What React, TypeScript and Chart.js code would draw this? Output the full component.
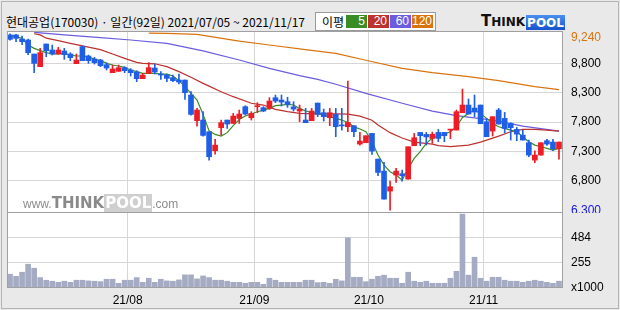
import React, { useEffect, useRef } from "react";
import { Chart, registerables } from "chart.js";

Chart.register(...registerables);

// ---- data ----
const titleText = "현대공업(170030) · 일간(92일) 2021/07/05 ~ 2021/11/17";
const monthTickIdx = [20, 41, 60, 79];
const monthLabels = ["21/08", "21/09", "21/10", "21/11"];

const openP = [
  9280, 9280, 9211, 9194, 8956, 8741, 9126, 9024, 8956, 9007,
  8956, 8792, 9081, 8922, 8871, 8854, 8775, 8639, 8662, 8724,
  8684, 8650, 8537, 8627, 8718, 8605, 8599, 8554, 8514, 8514,
  8259, 7823, 7834, 7636, 7313, 7704, 7834, 7777, 7862, 8061,
  7873, 8061, 8044, 8032, 8214, 8174, 8146, 8058, 7987, 7834,
  7823, 8123, 7959, 7874, 7930, 7740, 7721, 7738, 7426, 7449,
  7607, 7171, 6967, 6627, 6899, 6922, 6831, 7398, 7624, 7590,
  7522, 7624, 7624, 7664, 7664, 7959, 8089, 8038, 8089, 7806,
  7647, 8004, 7862, 7777, 7675, 7579, 7449, 7154, 7239, 7483,
  7460, 7347,
];
const highP = [
  9300, 9290, 9262, 9211, 8956, 9052, 9126, 9109, 9069, 9052,
  8979, 8956, 9092, 8939, 8899, 8865, 8809, 8769, 8769, 8741,
  8707, 8673, 8627, 8810, 8786, 8656, 8616, 8599, 8616, 8514,
  8316, 8032, 7976, 7636, 7505, 7834, 7834, 7947, 8004, 8078,
  7976, 8129, 8061, 8214, 8259, 8259, 8222, 8146, 8089, 8032,
  8032, 8123, 8021, 8032, 8032, 8032, 8497, 7738, 7624, 7568,
  7607, 7171, 7114, 6797, 7012, 6984, 7381, 7607, 7624, 7624,
  7630, 7675, 7624, 7675, 8004, 8361, 8191, 8259, 8089, 7862,
  7891, 8032, 7964, 7789, 7709, 7664, 7494, 7313, 7449, 7505,
  7505, 7460,
];
const lowP = [
  9190, 9165, 9115, 8945, 8639, 8741, 8911, 8939, 8956, 8865,
  8843, 8792, 8843, 8797, 8786, 8741, 8684, 8639, 8662, 8639,
  8582, 8486, 8537, 8627, 8616, 8525, 8486, 8486, 8446, 8185,
  7919, 7732, 7562, 7154, 7256, 7579, 7692, 7777, 7777, 7919,
  7834, 7959, 7976, 8015, 8129, 8072, 8050, 7987, 7806, 7789,
  7823, 7891, 7817, 7738, 7551, 7664, 7636, 7551, 7409, 7449,
  7250, 6888, 6491, 6304, 6774, 6797, 6831, 7398, 7398, 7409,
  7440, 7466, 7466, 7517, 7664, 7959, 7936, 7891, 7772, 7551,
  7562, 7766, 7619, 7494, 7483, 7494, 7211, 7109, 7239, 7403,
  7313, 7171,
];
const closeP = [
  9205, 9222, 9166, 8979, 8797, 8979, 9013, 8956, 9024, 8945,
  8894, 8854, 8843, 8843, 8809, 8758, 8718, 8701, 8724, 8673,
  8639, 8537, 8599, 8724, 8650, 8599, 8542, 8503, 8480, 8299,
  7930, 8004, 7573, 7211, 7409, 7789, 7766, 7902, 7936, 7936,
  7947, 8072, 7987, 8157, 8157, 8140, 8100, 8021, 8021, 7789,
  7987, 7930, 7891, 7959, 7721, 7735, 7794, 7636, 7477, 7568,
  7307, 6944, 6491, 6701, 6967, 6888, 7381, 7534, 7568, 7548,
  7593, 7522, 7568, 7675, 7976, 8089, 7936, 7970, 7772, 7551,
  7891, 7766, 7692, 7704, 7596, 7494, 7239, 7239, 7449, 7426,
  7347, 7460,
];

const ma5 = [
  9279, 9250, 9222, 9109, 9052, 9013, 8979, 8956, 8956, 8967,
  8939, 8922, 8922, 8911, 8865, 8843, 8797, 8769, 8752, 8729,
  8684, 8656, 8627, 8627, 8627, 8616, 8616, 8582, 8503, 8401,
  8287, 8174, 7930, 7650, 7590, 7562, 7620, 7740, 7845, 7902,
  7936, 7976, 8004, 8032, 8078, 8089, 8100, 8090, 8032, 7987,
  7964, 7947, 7919, 7891, 7862, 7834, 7794, 7721, 7681, 7636,
  7466, 7239, 7069, 6956, 6899, 6814, 7012, 7182, 7296, 7437,
  7530, 7562, 7596, 7636, 7721, 7879, 7947, 8004, 7947, 7862,
  7777, 7721, 7692, 7664, 7636, 7551, 7466, 7409, 7381, 7352,
  7324, 7352,
];
const ma20Idx = [4, 5, 6, 8, 10, 12, 15, 17, 19, 21, 22, 24, 26, 28, 30, 32, 33, 35, 37, 40, 42, 44, 46, 48, 51, 54, 56, 58, 60, 61, 63, 65, 67, 70, 71, 73, 76, 78, 81, 83, 85, 87, 89, 91];
const ma20Val = [9300, 9280, 9225, 9183, 9137, 9095, 9030, 8956, 8882, 8814, 8797, 8790, 8741, 8656, 8560, 8457, 8410, 8316, 8231, 8120, 8089, 8015, 7976, 7947, 7940, 7940, 7935, 7900, 7830, 7749, 7620, 7530, 7460, 7426, 7400, 7381, 7409, 7460, 7560, 7636, 7675, 7675, 7664, 7647];
const ma60Idx = [4, 9, 15, 20, 26, 32, 38, 43, 48, 51, 54, 59, 65, 70, 74, 80, 85, 91];
const ma60Val = [9325, 9280, 9234, 9194, 9137, 9010, 8854, 8712, 8590, 8525, 8443, 8287, 8120, 7985, 7908, 7834, 7732, 7645];
const ma120Idx = [23, 26, 31, 38, 43, 49, 54, 59, 65, 70, 76, 81, 87, 91];
const ma120Val = [9310, 9305, 9290, 9175, 9109, 9030, 8967, 8850, 8712, 8639, 8571, 8503, 8401, 8350];

const volume = [
  148, 129, 166, 239, 203, 117, 93, 84, 74, 84,
  74, 93, 93, 87, 84, 80, 102, 102, 65, 93,
  93, 117, 74, 111, 74, 102, 87, 84, 96, 142,
  142, 105, 132, 117, 93, 93, 84, 74, 74, 65,
  74, 74, 56, 111, 93, 74, 74, 74, 74, 93,
  93, 71, 74, 65, 102, 87, 480, 120, 120, 80,
  102, 129, 139, 111, 111, 65, 166, 84, 74, 84,
  65, 65, 65, 111, 175, 697, 139, 303, 111, 84,
  120, 120, 93, 84, 84, 74, 84, 93, 84, 74,
  65, 84,
];

const priceTicks = [6300, 6800, 7300, 7800, 8300, 8800, 9240];
const priceMin = 6255;
const priceMax = 9330;
const volTicks = [22, 255, 484];
const volMin = 22;
const volMax = 707;

const maLabels = ["5", "20", "60", "120"];
const maColors = ["#3a8c24", "#bd312f", "#6b5ce0", "#d9730f"];

// ---- styles ----
const UP = "#ee1c24";
const DOWN = "#1f5fe6";
const GRID = "#d6d6d6";
const FRAME = "#a0a0a0";
const AXIS_FONT = { family: "'Liberation Sans', Arial, sans-serif", size: 12 };

const panelFrame = {
  id: "panelFrame",
  beforeDraw(chart: any) {
    const { ctx, chartArea: a } = chart;
    ctx.save();
    ctx.fillStyle = "#ffffff";
    ctx.fillRect(a.left, a.top, a.right - a.left, a.bottom - a.top);
    ctx.restore();
  },
  afterDraw(chart: any) {
    const { ctx, chartArea: a } = chart;
    ctx.save();
    ctx.strokeStyle = FRAME;
    ctx.lineWidth = 1;
    const l = Math.round(a.left) + 0.5;
    const t = Math.round(a.top) - 0.5;
    const r = Math.round(a.right) + 0.5;
    const b = Math.round(a.bottom) - 0.5;
    ctx.strokeRect(l, t, r - l, b - t);
    ctx.restore();
  },
};

const zeroPad = (s: any) => {
  s.paddingTop = 0;
  s.paddingBottom = 0;
  s.paddingLeft = 0;
  s.paddingRight = 0;
};

const monthXAxis = (showLabels: boolean, height: number) => ({
  type: "linear" as const,
  min: -0.5,
  max: 91.5,
  offset: false,
  grid: { offset: false, color: GRID, drawTicks: false },
  border: { display: false },
  ticks: {
    display: showLabels,
    autoSkip: false,
    maxRotation: 0,
    padding: 5,
    font: AXIS_FONT,
    color: "#000",
    callback: (v: any) => {
      const k = monthTickIdx.indexOf(Number(v) + 0.5);
      return k >= 0 ? monthLabels[k] : "";
    },
  },
  afterBuildTicks: (s: any) => {
    s.ticks = monthTickIdx.map((i) => ({ value: i - 0.5 }));
  },
  afterFit: (s: any) => {
    s.height = height;
    zeroPad(s);
  },
});

function PriceChart() {
  const ref = useRef<HTMLCanvasElement | null>(null);
  useEffect(() => {
    if (!ref.current) return;
    const idx = openP.map((_, i) => i);
    const colors = idx.map((i) => (closeP[i] >= openP[i] ? UP : DOWN));
    const line = (data: any[], color: string, order: number) => ({
      type: "line" as const,
      data,
      borderColor: color,
      borderWidth: 1.2,
      pointRadius: 0,
      tension: 0,
      fill: false,
      order,
    });
    const chart = new Chart(ref.current, {
      type: "bar",
      data: {
        datasets: [
          line(ma120Idx.map((x, k) => ({ x, y: ma120Val[k] })), maColors[3], 6),
          line(ma60Idx.map((x, k) => ({ x, y: ma60Val[k] })), maColors[2], 5),
          line(ma20Idx.map((x, k) => ({ x, y: ma20Val[k] })), maColors[1], 4),
          line(ma5.map((y, x) => ({ x, y })), maColors[0], 3),
          {
            type: "bar" as const,
            data: idx.map((i) => ({ x: i, y: [lowP[i], highP[i]] })),
            backgroundColor: colors,
            barThickness: 1,
            grouped: false,
            order: 2,
          } as any,
          {
            type: "bar" as const,
            data: idx.map((i) => ({ x: i, y: [openP[i], closeP[i]] })),
            backgroundColor: colors,
            barThickness: 5,
            minBarLength: 1,
            grouped: false,
            order: 1,
          } as any,
        ],
      },
      options: {
        responsive: false,
        animation: false,
        layout: { padding: { left: 7, top: 32, right: 0, bottom: 0 } },
        plugins: { legend: { display: false }, tooltip: { enabled: false } },
        scales: {
          x: monthXAxis(false, 0) as any,
          y: {
            position: "right",
            min: priceMin,
            max: priceMax,
            beginAtZero: false,
            grid: {
              drawTicks: false,
              color: (c: any) =>
                c.tick && (c.tick.value === 6300 || c.tick.value === 9240) ? "rgba(0,0,0,0)" : GRID,
            },
            border: { display: false },
            ticks: {
              padding: 9,
              font: AXIS_FONT,
              color: (c: any) =>
                c.tick && c.tick.value === 9240 ? "#d9730f" : c.tick && c.tick.value === 6300 ? "#1414e0" : "#000",
              callback: (v: any) => Number(v).toLocaleString("en-US"),
            },
            afterBuildTicks: (s: any) => {
              s.ticks = priceTicks.map((value) => ({ value }));
            },
            afterFit: (s: any) => {
              s.width = 58;
              zeroPad(s);
            },
          } as any,
        },
      },
      plugins: [panelFrame],
    });
    return () => chart.destroy();
  }, []);
  return (
    <canvas
      ref={ref}
      width={620}
      height={213}
      style={{ position: "absolute", left: 0, top: 0, width: 620, height: 213 }}
    />
  );
}

function VolumeChart() {
  const ref = useRef<HTMLCanvasElement | null>(null);
  useEffect(() => {
    if (!ref.current) return;
    const chart = new Chart(ref.current, {
      type: "bar",
      data: {
        datasets: [
          {
            data: volume.map((y, x) => ({ x, y })),
            backgroundColor: "#a4abc2",
            barThickness: 5,
            grouped: false,
          } as any,
        ],
      },
      options: {
        responsive: false,
        animation: false,
        layout: { padding: { left: 7, top: 213, right: 0, bottom: 0 } },
        plugins: { legend: { display: false }, tooltip: { enabled: false } },
        scales: {
          x: monthXAxis(true, 22) as any,
          y: {
            position: "right",
            min: volMin,
            max: volMax,
            beginAtZero: false,
            grid: {
              drawTicks: false,
              color: (c: any) => (c.tick && c.tick.value === volMin ? "rgba(0,0,0,0)" : GRID),
            },
            border: { display: false },
            ticks: {
              padding: 9,
              font: AXIS_FONT,
              color: "#000",
              callback: (v: any) => (Number(v) === volMin ? "x1000" : String(v)),
            },
            afterBuildTicks: (s: any) => {
              s.ticks = volTicks.map((value) => ({ value }));
            },
            afterFit: (s: any) => {
              s.width = 58;
              zeroPad(s);
            },
          } as any,
        },
      },
      plugins: [panelFrame],
    });
    return () => chart.destroy();
  }, []);
  return (
    <canvas
      ref={ref}
      width={620}
      height={310}
      style={{ position: "absolute", left: 0, top: 0, width: 620, height: 310 }}
    />
  );
}

function Header() {
  return (
    <>
      <div
        style={{
          position: "absolute",
          left: 6,
          top: 14,
          fontFamily: "'Noto Sans CJK KR', sans-serif",
          fontSize: 12,
          lineHeight: "15px",
          color: "#000",
          whiteSpace: "nowrap",
        }}
      >
        {titleText}
      </div>
      <div
        style={{
          position: "absolute",
          left: 315,
          top: 12,
          width: 121,
          height: 19,
          boxSizing: "border-box",
          border: "1px solid #9a9a9a",
          background: "#fff",
        }}
      >
        <span
          style={{
            position: "absolute",
            left: 6,
            top: 0,
            lineHeight: "17px",
            fontSize: 12,
            fontFamily: "'Noto Sans CJK KR', sans-serif",
            color: "#000",
          }}
        >
          이평
        </span>
        {maLabels.map((lab, k) => (
          <span
            key={lab}
            style={{
              position: "absolute",
              left: 30 + 22 * k,
              top: 2,
              width: 21,
              height: 13,
              boxSizing: "border-box",
              paddingRight: 2,
              background: maColors[k],
              color: "#fff",
              fontFamily: "'Liberation Sans', Arial, sans-serif",
              fontSize: 12,
              lineHeight: "13px",
              textAlign: "right",
            }}
          >
            {lab}
          </span>
        ))}
      </div>
      <div
        style={{
          position: "absolute",
          left: 481,
          top: 14,
          height: 16,
          display: "flex",
          alignItems: "flex-end",
          whiteSpace: "nowrap",
        }}
      >
        <span
          style={{
            fontFamily: "'DejaVu Sans', sans-serif",
            fontWeight: "bold",
            fontSize: 15,
            lineHeight: "15px",
            color: "#111",
          }}
        >
          T<span style={{ fontSize: 12 }}>HINK</span>
        </span>
        <span
          style={{
            display: "inline-block",
            marginLeft: 1,
            height: 15,
            padding: "0 1px",
            background: "linear-gradient(#4a90f0, #1552cc)",
            fontFamily: "'DejaVu Sans', sans-serif",
            fontWeight: "bold",
            fontSize: 12,
            lineHeight: "16px",
            color: "#fff",
          }}
        >
          POOL
        </span>
      </div>
    </>
  );
}

function Watermark() {
  return (
    <div
      style={{
        position: "absolute",
        left: 23,
        top: 194,
        height: 17,
        display: "flex",
        alignItems: "baseline",
        whiteSpace: "nowrap",
        color: "#8c8c8c",
        fontFamily: "'Liberation Sans', Arial, sans-serif",
      }}
    >
      <span style={{ fontSize: 12 }}>www.</span>
      <span style={{ fontSize: 15, fontWeight: "bold", fontFamily: "'DejaVu Sans', sans-serif", color: "#8a8a8a" }}>
        THINK
      </span>
      <span
        style={{
          fontSize: 15,
          fontWeight: "bold",
          fontFamily: "'DejaVu Sans', sans-serif",
          color: "#fff",
          background: "#cfcfcf",
          padding: "0 1px",
        }}
      >
        POOL
      </span>
      <span style={{ fontSize: 12 }}>.com</span>
    </div>
  );
}

export default function App() {
  return (
    <div
      style={{
        position: "absolute",
        left: 0,
        top: 0,
        width: 620,
        height: 310,
        background: "#e9e9e9",
        overflow: "hidden",
      }}
    >
      <div
        style={{
          position: "absolute",
          left: 1,
          top: 1,
          width: 618,
          height: 308,
          boxSizing: "border-box",
          border: "1px solid #b4b4b4",
        }}
      />
      <Header />
      <PriceChart />
      <VolumeChart />
      <Watermark />
    </div>
  );
}
